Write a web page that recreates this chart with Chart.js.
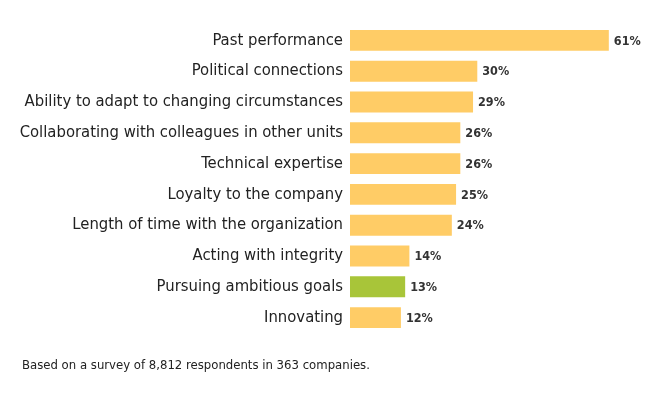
<!DOCTYPE html>
<html>
<head>
<meta charset="utf-8">
<script src="https://cdn.jsdelivr.net/npm/chart.js@4/dist/chart.umd.min.js"></script>
<style>
  html, body { margin: 0; padding: 0; background: #fff; }
  #wrap { position: relative; width: 663px; height: 393px; }
  #note {
    position: absolute; left: 22px; top: 357px;
    font-family: "Liberation Sans Narrow", "DejaVu Sans Condensed", sans-serif;
    font-size: 13px; color: #222;
  }
</style>
</head>
<body>
<div id="wrap">
  <canvas id="chart" width="663" height="393"></canvas>
  <div id="note">Based on a survey of 8,812 respondents in 363 companies.</div>
</div>
<script>
const categories = [
  'Past performance',
  'Political connections',
  'Ability to adapt to changing circumstances',
  'Collaborating with colleagues in other units',
  'Technical expertise',
  'Loyalty to the company',
  'Length of time with the organization',
  'Acting with integrity',
  'Pursuing ambitious goals',
  'Innovating'
];
const values = [61, 30, 29, 26, 26, 25, 24, 14, 13, 12];
const highlight = 'Pursuing ambitious goals';

const FONT = '"Liberation Sans Narrow", "DejaVu Sans Condensed", sans-serif';

// value labels at the end of each bar
const valueLabels = {
  id: 'valueLabels',
  afterDatasetsDraw(chart) {
    const ctx = chart.ctx;
    const meta = chart.getDatasetMeta(0);
    ctx.save();
    ctx.font = 'bold 12.5px ' + FONT;
    ctx.fillStyle = '#333';
    ctx.textBaseline = 'middle';
    meta.data.forEach((bar, i) => {
      ctx.fillText(values[i] + '%', bar.x + 5, bar.y + 1);
    });
    ctx.restore();
  }
};

new Chart(document.getElementById('chart'), {
  type: 'bar',
  data: {
    labels: categories,
    datasets: [{
      data: values,
      backgroundColor: categories.map(c => c === highlight ? '#a8c539' : '#ffcc66'),
      borderWidth: 0,
      barPercentage: 0.8,
      categoryPercentage: 0.85
    }]
  },
  options: {
    indexAxis: 'y',
    responsive: false,
    animation: false,
    layout: { padding: { left: 0, right: 16, top: 25, bottom: 60 } },
    plugins: { legend: { display: false }, tooltip: { enabled: false } },
    scales: {
      x: { display: false, min: 0, max: 70 },
      y: {
        grid: { display: false, drawTicks: false, tickLength: 0 },
        border: { display: false },
        ticks: { color: '#222', font: { family: FONT, size: 16.5 }, padding: 7 },
        afterFit(scale) { scale.width = 350; }
      }
    }
  },
  plugins: [valueLabels]
});
</script>
</body>
</html>
